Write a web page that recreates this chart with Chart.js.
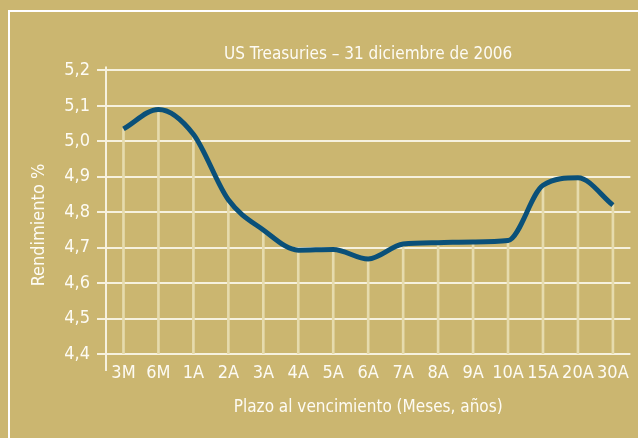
<!DOCTYPE html>
<html>
<head>
<meta charset="utf-8">
<script src="https://cdn.jsdelivr.net/npm/chart.js@4/dist/chart.umd.min.js"></script>
<style>
  html, body { margin: 0; padding: 0; background: #cbb670; }
  #wrap { width: 638px; height: 438px; position: relative; }
</style>
</head>
<body>
<div id="wrap"><canvas id="myChart" width="638" height="438"></canvas></div>
<script>
'use strict';
// plazos (categorias del eje x)
let plazos = ['3M', '6M', '1A', '2A', '3A', '4A', '5A', '6A', '7A', '8A', '9A', '10A', '15A', '20A', '30A'];
// rendimiento en %
let rendimiento = [5.035, 5.09, 5.02, 4.835, 4.75, 4.693, 4.695, 4.668, 4.71, 4.714, 4.716, 4.72, 4.876, 4.897, 4.82];
let yMin = 4.4;
let yMax = 5.2;
let yPaso = 0.1;
let tituloY = 'Rendimiento %';

const fondo = '#cbb670';
const blanco = '#fdfbf4';
const rejilla = '#f6f1de';
const guia = '#e6dbad';
const azul = '#0a5079';
const fuente = "'DejaVu Sans Condensed', 'Liberation Sans Narrow', sans-serif";

// lineas verticales desde cada punto hasta la base
let guias = [];
for (let i = 0; i < rendimiento.length; i++) {
  guias.push([yMin, rendimiento[i]]);
}

// fondo y marco blanco
const marco = {
  id: 'marco',
  beforeDraw(chart) {
    const ctx = chart.ctx;
    ctx.save();
    ctx.fillStyle = fondo;
    ctx.fillRect(0, 0, chart.width, chart.height);
    ctx.strokeStyle = '#ffffff';
    ctx.lineWidth = 2;
    ctx.strokeRect(9, 11, chart.width + 20, chart.height + 20);
    ctx.restore();
  }
};

// eje y que sobresale por arriba y por abajo, y su titulo
const ejeY = {
  id: 'ejeY',
  beforeDatasetsDraw(chart) {
    const ctx = chart.ctx;
    const area = chart.chartArea;
    ctx.save();
    ctx.strokeStyle = rejilla;
    ctx.lineWidth = 2;
    ctx.beginPath();
    ctx.moveTo(area.left, area.top - 4);
    ctx.lineTo(area.left, area.bottom + 17);
    ctx.stroke();
    ctx.restore();
  },
  afterDraw(chart) {
    const ctx = chart.ctx;
    ctx.save();
    ctx.translate(39, 225);
    ctx.rotate(-Math.PI / 2);
    ctx.fillStyle = blanco;
    ctx.font = '18px ' + fuente;
    ctx.textAlign = 'center';
    ctx.textBaseline = 'middle';
    ctx.fillText(tituloY, 0, 0);
    ctx.restore();
  }
};

Chart.defaults.font.family = fuente;
Chart.defaults.color = blanco;

const ctx = document.getElementById('myChart').getContext('2d');
const myChart = new Chart(ctx, {
  type: 'bar',
  data: {
    labels: plazos,
    datasets: [{
      type: 'line',
      label: 'Rendimiento',
      data: rendimiento,
      borderColor: azul,
      borderWidth: 5,
      pointRadius: 0,
      cubicInterpolationMode: 'monotone',
      borderJoinStyle: 'round',
      fill: false,
      order: 1
    }, {
      type: 'bar',
      label: 'guias',
      data: guias,
      backgroundColor: guia,
      barThickness: 2,
      borderWidth: 0,
      order: 2
    }]
  },
  options: {
    responsive: false,
    animation: false,
    layout: { padding: { left: 0, right: 6, top: 0, bottom: 0 } },
    plugins: {
      legend: { display: false },
      tooltip: { enabled: false },
      title: {
        display: true,
        text: 'US Treasuries – 31 diciembre de 2006',
        color: blanco,
        fullSize: false,
        font: { size: 17, weight: 'normal' },
        padding: { top: 44, bottom: 6 }
      }
    },
    scales: {
      x: {
        grid: { display: false, drawTicks: false },
        border: { display: false },
        ticks: { color: blanco, font: { size: 18 }, padding: 9, maxRotation: 0, autoSkip: false },
        title: {
          display: true,
          text: 'Plazo al vencimiento (Meses, años)',
          color: blanco,
          font: { size: 17 },
          padding: { top: 0, bottom: 20 }
        },
        afterFit(scale) { scale.height = 84; }
      },
      y: {
        min: yMin,
        max: yMax,
        grid: { color: rejilla, lineWidth: 2, tickLength: 9, drawTicks: true },
        border: { display: false },
        ticks: {
          stepSize: yPaso,
          color: blanco,
          font: { size: 18 },
          padding: 7,
          callback: function (v) { return v.toFixed(1).replace('.', ','); }
        },
        afterFit(scale) { scale.width = 106; }
      }
    }
  },
  plugins: [marco, ejeY]
});
</script>
</body>
</html>
